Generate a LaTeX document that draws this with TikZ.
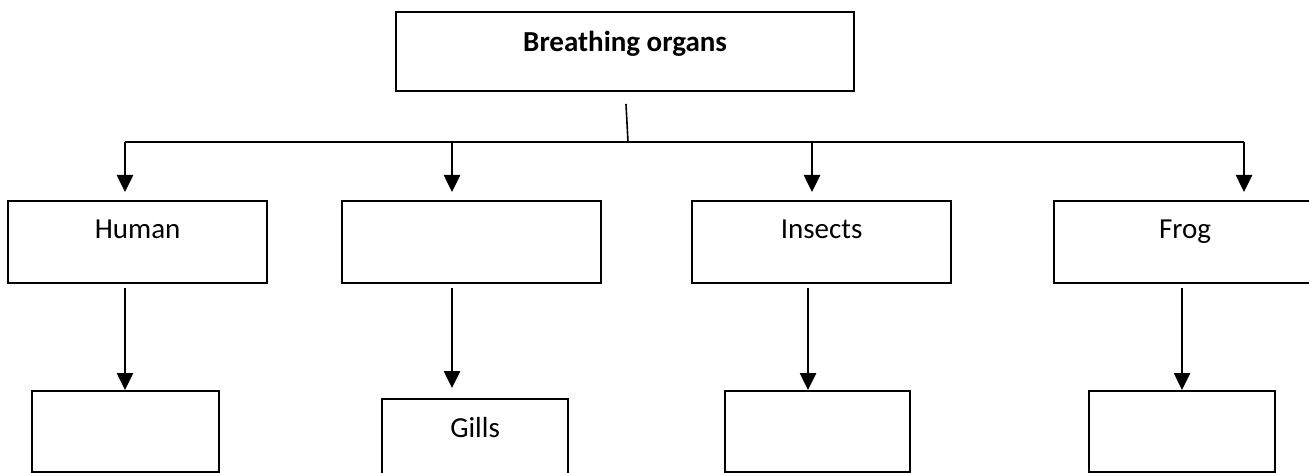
\documentclass[tikz,border=0pt]{standalone}
\usepackage{fontspec}
\setmainfont{Carlito}
\usetikzlibrary{arrows.meta}
\begin{document}
\begin{tikzpicture}[x=1pt,y=-1pt,
  box/.style={draw, line width=2.2pt, rectangle, anchor=north west, inner sep=0pt},
  lbl/.style={anchor=base, font=\fontsize{29}{34}\selectfont},
  arr/.style={line width=2.6pt, -{Triangle[width=16pt,length=17pt]}},
  bar/.style={line width=2.6pt}]
\useasboundingbox (0,0) rectangle (1309,473);
\clip (0,0) rectangle (1309,473);
% boxes
\node[box, minimum width=458pt, minimum height=79pt] (top) at (395,11) {};
\node[box, minimum width=259pt, minimum height=82pt] (human) at (7,200) {};
\node[box, minimum width=259pt, minimum height=82pt] (blank) at (341,200) {};
\node[box, minimum width=259pt, minimum height=82pt] (insects) at (691,200) {};
\node[box, minimum width=262pt, minimum height=82pt] (frog) at (1053,200) {};
\node[box, minimum width=187pt, minimum height=81pt] (hb) at (31,390) {};
\node[box, minimum width=186pt, minimum height=82pt] (gills) at (381,398) {};
\node[box, minimum width=185pt, minimum height=81pt] (ib) at (724,390) {};
\node[box, minimum width=186pt, minimum height=81pt] (fb) at (1088,390) {};
% labels
\node[lbl] (ttop) at ([yshift=-41pt]top.north) {\bfseries Breathing organs};
\node[lbl] (thuman) at ([yshift=-39pt]human.north) {Human};
\node[lbl] (tinsects) at ([yshift=-39pt]insects.north) {Insects};
\node[lbl] (tfrog) at ([yshift=-39pt]frog.north) {Frog};
\node[lbl] (tgills) at ([yshift=-39pt]gills.north) {Gills};
% connectors
\coordinate (s0) at (626,104);
\coordinate (s1) at (628,142);
\coordinate (b1) at (125,142);
\coordinate (b2) at (452,142);
\coordinate (b3) at (812,142);
\coordinate (b4) at (1244,142);
\draw[line width=1.6pt] (s0) -- (s1);
\draw[bar] (b1) -- (b4);
\draw[arr, shorten >=8pt] (b1) -- (b1 |- human.north);
\draw[arr, shorten >=8pt] (b2) -- (b2 |- blank.north);
\draw[arr, shorten >=8pt] (b3) -- (b3 |- insects.north);
\draw[arr, shorten >=8pt] (b4) -- (b4 |- frog.north);
\coordinate (d1) at (125,288);
\coordinate (d2) at (452,288);
\coordinate (d3) at (808,288);
\coordinate (d4) at (1182,288);
\draw[arr] (d1) -- (d1 |- hb.north);
\draw[arr, shorten >=10pt] (d2) -- (d2 |- gills.north);
\draw[arr] (d3) -- (d3 |- ib.north);
\draw[arr] (d4) -- (d4 |- fb.north);
\end{tikzpicture}
\end{document}
